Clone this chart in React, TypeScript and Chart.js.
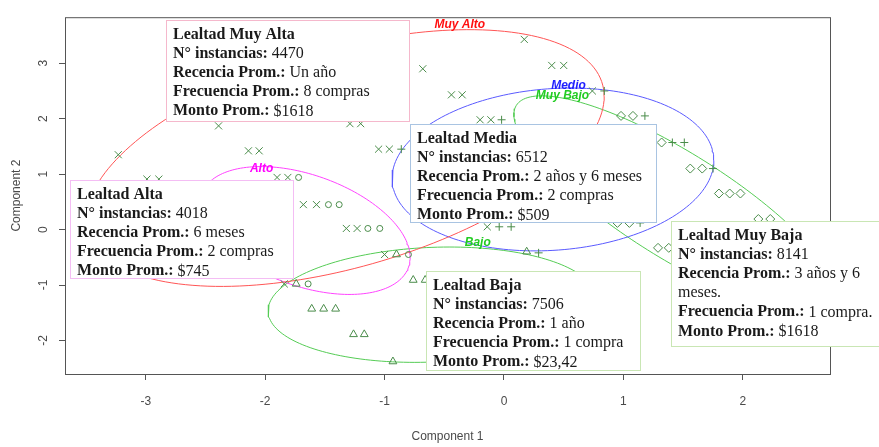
import React, { useEffect, useRef } from "react";
import { Chart, registerables } from "chart.js";

Chart.register(...registerables);

// ---- axes ----
const xTicks = [-3, -2, -1, 0, 1, 2];
const yTicks = [-2, -1, 0, 1, 2, 3];
const xMin = -3.676;
const xMax = 2.73;
const yMin = -2.605;
const yMax = 3.83;

// ---- points per cluster (Component 1, Component 2) ----
const muyAltoX = [-3.23, -2.39, -2.14, -2.05, -2.99, -2.89, -1.9, -1.81, -1.68, -1.57, -1.32, -1.23, -1.0, -1.84, -0.14, 0.17, 0.4, 0.5, -0.68, -0.44, -0.35, -1.29, -1.2, -1.05, -0.96, -0.2, -0.11, 0.74];
const muyAltoY = [1.35, 1.87, 1.42, 1.42, 0.91, 0.91, 0.94, 0.94, 0.45, 0.45, 0.02, 0.02, -0.45, -0.98, 0.05, 3.43, 2.96, 2.96, 2.9, 2.43, 2.43, 1.91, 1.91, 1.45, 1.45, 1.98, 1.98, 2.5];
const altoX = [-1.72, -1.47, -1.38, -1.14, -1.04, -0.8, -1.64];
const altoY = [0.94, 0.45, 0.45, 0.02, 0.02, -0.45, -0.98];
const bajoX = [-0.9, -1.74, -1.61, -1.51, -1.41, -1.26, -1.17, -0.93, -0.76, -0.66, 0.19];
const bajoY = [-0.45, -0.98, -1.43, -1.43, -1.43, -1.89, -1.89, -2.38, -0.91, -0.91, -0.4];
const medioX = [-0.86, -0.02, -0.04, 0.06, 0.84, 0.29, 1.18, 1.41, 1.51, 1.75, 1.14];
const medioY = [1.45, 1.98, 0.05, 0.05, 2.5, -0.42, 2.05, 1.57, 1.57, 1.1, 0.12];
const muyBajoX = [0.98, 1.08, 1.32, 1.56, 1.66, 1.8, 1.89, 1.98, 2.13, 2.23, 0.95, 1.05, 1.29, 1.38];
const muyBajoY = [2.05, 2.05, 1.57, 1.1, 1.1, 0.65, 0.65, 0.65, 0.19, 0.19, 0.12, 0.12, -0.33, -0.33];

// ---- cluster ellipses: centre and covariance-like shape ----
const ellipseNames = ["Muy Alto", "Alto", "Medio", "Muy Bajo", "Bajo"];
const ellipseCx = [-1.33, -1.665, 0.41, 1.439, -0.603];
const ellipseCy = [1.29, -0.017, 1.084, 0.437, -1.355];
const ellipseSxx = [4.704, 0.773, 1.815, 1.839, 1.884];
const ellipseSyy = [5.361, 1.33, 2.157, 3.899, 1.082];
const ellipseSxy = [2.403, -0.427, 0.219, -2.218, 0.152];
const ellipseLabelX = [-0.37, -2.03, 0.54, 0.49, -0.22];
const ellipseLabelY = [3.69, 1.1, 2.6, 2.41, -0.23];

// ---- info boxes ----
const boxTitles = ["Lealtad Muy Alta", "Lealtad Alta", "Lealtad Media", "Lealtad Baja", "Lealtad Muy Baja"];
const boxInstancias = ["4470", "4018", "6512", "7506", "8141"];
const boxRecencia = ["Un año", "6 meses", "2 años y 6 meses", "1 año", "3 años y 6\nmeses."];
const boxFrecuencia = ["8 compras", "2 compras", "2 compras", "1 compra", "1 compra."];
const boxMonto = ["$1618", "$745", "$509", "$23,42", "$1618"];
const boxAnchorX = [-2.83, -3.63, -0.79, -0.65, 1.4];
const boxAnchorY = [3.78, 0.89, 1.91, -0.75, 0.16];

const STYLE = {
  pointColor: "#4a8c4a",
  ellipseColors: ["#ff5555", "#ff44ff", "#5a5aff", "#55cc55", "#55cc55"],
  labelColors: ["#ff1010", "#ff00ff", "#2020ff", "#22cc22", "#22cc22"],
  boxBorder: ["#f5b8cc", "#f4bdf4", "#a9c4e2", "#c9e6b4", "#c9e6b4"],
  boxW: [243, 223, 246, 214, 230],
  boxH: [101, 98, 98, 99, 125],
  axisColor: "#555555",
  textColor: "#4a4a4a",
};

function ellipsePoints(i: number) {
  const l11 = Math.sqrt(ellipseSxx[i]);
  const l21 = ellipseSxy[i] / l11;
  const l22 = Math.sqrt(ellipseSyy[i] - l21 * l21);
  const pts: { x: number; y: number }[] = [];
  const n = 180;
  for (let k = 0; k <= n; k++) {
    const t = (2 * Math.PI * k) / n;
    pts.push({
      x: ellipseCx[i] + l11 * Math.cos(t),
      y: ellipseCy[i] + l21 * Math.cos(t) + l22 * Math.sin(t),
    });
  }
  return pts;
}

const zip = (xs: number[], ys: number[]) => xs.map((x, i) => ({ x, y: ys[i] }));

const overlayPlugin = {
  id: "overlay",
  beforeDatasetsDraw(chart: any) {
    const { ctx, chartArea: a } = chart;
    ctx.save();
    ctx.strokeStyle = STYLE.axisColor;
    ctx.lineWidth = 1;
    ctx.strokeRect(a.left + 0.5, a.top + 0.5, a.right - a.left, a.bottom - a.top);
    ctx.restore();
  },
  afterDatasetsDraw(chart: any) {
    const { ctx } = chart;
    const xs = chart.scales.x;
    const ys = chart.scales.y;
    ctx.save();
    ctx.font = "italic bold 12px 'Liberation Sans', Arial, sans-serif";
    ctx.textAlign = "center";
    ctx.textBaseline = "middle";
    ellipseNames.forEach((n, i) => {
      ctx.fillStyle = STYLE.labelColors[i];
      ctx.fillText(n, xs.getPixelForValue(ellipseLabelX[i]), ys.getPixelForValue(ellipseLabelY[i]));
    });

    const bold = "bold 16px 'Liberation Serif', 'Times New Roman', serif";
    const normal = "16px 'Liberation Serif', 'Times New Roman', serif";
    boxTitles.forEach((title, i) => {
      const left = Math.round(xs.getPixelForValue(boxAnchorX[i])) + 0.5;
      const top = Math.round(ys.getPixelForValue(boxAnchorY[i])) + 0.5;
      const w = STYLE.boxW[i];
      const h = STYLE.boxH[i];
      ctx.fillStyle = "#ffffff";
      ctx.fillRect(left, top, w, h);
      ctx.strokeStyle = STYLE.boxBorder[i];
      ctx.lineWidth = 1;
      ctx.strokeRect(left, top, w, h);
      const rec = boxRecencia[i].split("\n");
      const lines: [string, string][] = [
        [title, ""],
        ["N° instancias: ", boxInstancias[i]],
        ["Recencia Prom.: ", rec[0]],
        ...rec.slice(1).map((r) => ["", r] as [string, string]),
        ["Frecuencia Prom.: ", boxFrecuencia[i]],
        ["Monto Prom.: ", boxMonto[i]],
      ];
      ctx.textAlign = "left";
      ctx.textBaseline = "middle";
      ctx.fillStyle = "#1a1a1a";
      lines.forEach(([b, v], k) => {
        const ty = top + 14 + 19.2 * k;
        const tx = left + 6.5;
        ctx.font = bold;
        ctx.fillText(b, tx, ty);
        const bw = ctx.measureText(b).width;
        ctx.font = normal;
        ctx.fillText(v, tx + bw, ty);
      });
    });
    ctx.restore();
  },
};

export default function App() {
  const ref = useRef<HTMLCanvasElement | null>(null);
  useEffect(() => {
    if (!ref.current) return;
    const markerBase = {
      backgroundColor: "rgba(0,0,0,0)",
      borderColor: STYLE.pointColor,
      pointBorderWidth: 1,
      borderWidth: 1,
      showLine: false,
    };
    const ellipseSets = ellipseNames.map((n, i) => ({
      label: n,
      data: ellipsePoints(i),
      showLine: true,
      borderColor: STYLE.ellipseColors[i],
      borderWidth: 1,
      pointRadius: 0,
      fill: false,
      tension: 0,
    }));
    const chart = new Chart(ref.current, {
      type: "scatter",
      data: {
        datasets: [
          { ...markerBase, label: "Muy Alto pts", data: zip(muyAltoX, muyAltoY), pointStyle: "crossRot", pointRadius: 5 },
          { ...markerBase, label: "Alto pts", data: zip(altoX, altoY), pointStyle: "circle", pointRadius: 3 },
          { ...markerBase, label: "Bajo pts", data: zip(bajoX, bajoY), pointStyle: "triangle", pointRadius: 4.5 },
          { ...markerBase, label: "Medio pts", data: zip(medioX, medioY), pointStyle: "cross", pointRadius: 4 },
          { ...markerBase, label: "Muy Bajo pts", data: zip(muyBajoX, muyBajoY), pointStyle: "rectRot", pointRadius: 4.5 },
          ...ellipseSets,
        ] as any,
      },
      options: {
        animation: false,
        responsive: false,
        events: [],
        layout: { padding: { top: 6, right: 49, left: 0, bottom: 0 } },
        plugins: { legend: { display: false }, tooltip: { enabled: false } },
        scales: {
          x: {
            type: "linear",
            min: xMin,
            max: xMax,
            afterFit: (s: any) => { s.height = 73; },
            afterBuildTicks: (s: any) => { s.ticks = xTicks.map((v) => ({ value: v })); },
            border: { display: false },
            grid: { drawOnChartArea: false, drawTicks: true, tickLength: 6, color: STYLE.axisColor },
            ticks: {
              color: STYLE.textColor,
              padding: 14,
              font: { family: "'Liberation Sans', Arial, sans-serif", size: 12 },
              callback: (v: any) => String(v),
            },
            title: {
              display: true,
              text: "Component 1",
              color: STYLE.textColor,
              font: { family: "'Liberation Sans', Arial, sans-serif", size: 12 },
              padding: { top: 0, bottom: 3 },
            },
          },
          y: {
            type: "linear",
            min: yMin,
            max: yMax,
            afterFit: (s: any) => { s.width = 65; },
            afterBuildTicks: (s: any) => { s.ticks = yTicks.map((v) => ({ value: v })); },
            border: { display: false },
            grid: { drawOnChartArea: false, drawTicks: true, tickLength: 6, color: STYLE.axisColor },
            ticks: {
              color: STYLE.textColor,
              padding: 10,
              minRotation: 90,
              maxRotation: 90,
              crossAlign: "center",
              font: { family: "'Liberation Sans', Arial, sans-serif", size: 12 },
              callback: (v: any) => String(v),
            },
            title: {
              display: true,
              text: "Component 2",
              color: STYLE.textColor,
              font: { family: "'Liberation Sans', Arial, sans-serif", size: 12 },
              padding: { top: 9, bottom: 0 },
            },
          },
        },
      },
      plugins: [overlayPlugin],
    } as any);
    return () => chart.destroy();
  }, []);
  return (
    <div style={{ position: "fixed", left: 0, top: 0, width: 879, height: 447, background: "#fff" }}>
      <canvas ref={ref} width={879} height={447} style={{ display: "block" }} />
    </div>
  );
}
